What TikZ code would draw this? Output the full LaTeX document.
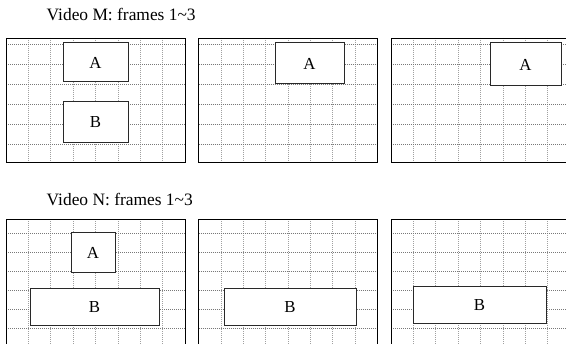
\documentclass[tikz,border=0pt]{standalone}
\usepackage{fontspec}
\setmainfont{Liberation Serif}
\usetikzlibrary{positioning}
\definecolor{ink}{RGB}{40,40,40}
\definecolor{dotgray}{RGB}{120,120,120}
\tikzset{
  frame/.style={draw=black,line width=0.9pt},
  hgrid/.style={dotgray,line width=0.6pt,dash pattern=on 1pt off 1pt},
  vgrid/.style={dotgray!70,line width=0.6pt,dash pattern=on 1pt off 1pt},
  obj/.style={draw=ink,fill=white,line width=1pt,inner sep=0pt,
    font=\fontsize{16.8}{18}\selectfont},
  caption/.style={anchor=base west,inner sep=0pt,font=\fontsize{17.4}{20}\selectfont},
  % one frame of a video: first row offset, row spacing, height
  pics/videoframe/.style n args={3}{code={
    \foreach \i in {1,...,7}
      \draw[vgrid] (\i*22.375,0) -- (\i*22.375,#3);
    \foreach \j in {0,...,5}
      \draw[hgrid] (0,#1+\j*#2) -- (179,#1+\j*#2);
    \draw[frame] (0,0) rectangle (179,#3);
  }},
}
\begin{document}
\begin{tikzpicture}[x=1pt,y=-1pt]
  \useasboundingbox (0,0) rectangle (566,344);
  \fill[white] (0,0) rectangle (566,344);
  \clip (0,0) rectangle (566,344);
  % video M
  \node[caption] (capM) at (46.5,21) {Video M: frames 1\textasciitilde3};
  \foreach \x in {6,198.5,391}
    \pic at (\x,38) {videoframe={6}{20}{124}};
  \node[obj,minimum width=65pt,minimum height=39pt] (m1A) at (95.5,62.5) {A};
  \node[obj,minimum width=65pt,minimum height=41pt] (m1B) at (95.5,122.5) {B};
  \node[obj,minimum width=69pt,minimum height=41pt] (m2A) at (309.5,63.5) {A};
  \node[obj,minimum width=71pt,minimum height=43pt] (m3A) at (525.5,64.5) {A};
  % video N
  \node[caption] (capN) at (46.5,206) {Video N: frames 1\textasciitilde3};
  \foreach \x in {6,198.5,391}
    \pic at (\x,219.5) {videoframe={14}{19}{132}};
  \node[obj,minimum width=44pt,minimum height=40pt] (n1A) at (93,253) {A};
  \node[obj,minimum width=129pt,minimum height=37pt] (n1B) at (94.5,307.5) {B};
  \node[obj,minimum width=132pt,minimum height=37pt] (n2B) at (290,307.5) {B};
  \node[obj,minimum width=133pt,minimum height=37pt] (n3B) at (479.5,305.5) {B};
\end{tikzpicture}
\end{document}
